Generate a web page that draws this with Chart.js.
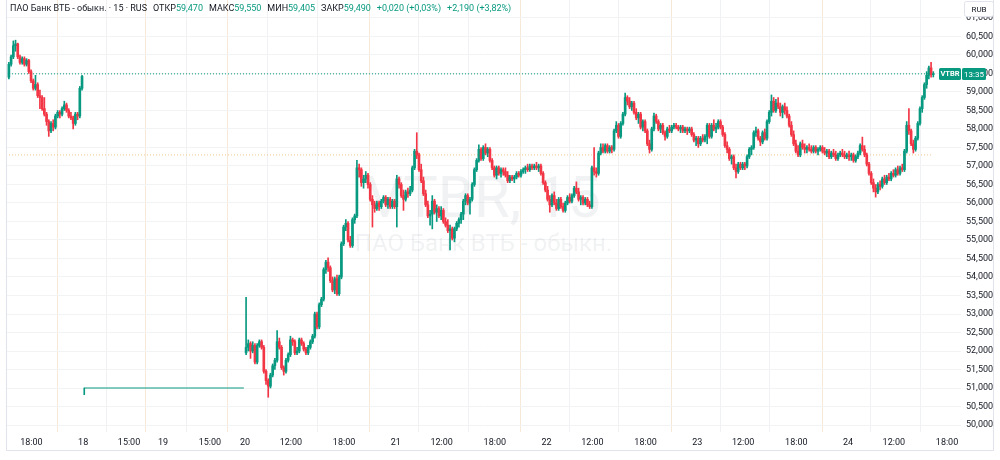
<!DOCTYPE html>
<html><head><meta charset="utf-8">
<script src="https://cdn.jsdelivr.net/npm/chart.js@4.4.1/dist/chart.umd.min.js"></script>
<style>html,body{margin:0;padding:0;background:#fff;}#wrap{width:1000px;height:460px;position:relative}</style>
</head><body><div id="wrap"><canvas id="c" width="1000" height="460"></canvas></div>
<script>
// ---- DATA: 15-min candles [open, high, low, close] (RUB) ----
const day17 = [
[59.40,59.80,59.35,59.75],[59.75,60.00,59.70,59.95],[59.95,60.38,59.90,60.25],[60.25,60.40,60.10,60.30],
[60.30,60.32,59.90,59.95],[59.95,60.00,59.75,59.80],[59.80,59.95,59.75,59.90],[59.90,59.95,59.70,59.75],
[59.75,59.90,59.70,59.85],[59.85,59.88,59.50,59.55],[59.55,59.60,59.25,59.30],[59.30,59.35,59.05,59.10],
[59.10,59.45,59.05,59.20],[59.20,59.25,58.85,58.90],[58.90,59.05,58.55,58.85],[58.85,58.90,58.50,58.55],
[58.55,58.85,58.35,58.40],[58.40,58.45,58.10,58.20],[58.20,58.25,57.80,57.95],[57.95,58.20,57.90,58.15],
[58.15,58.25,57.95,58.05],[58.05,58.40,58.00,58.35],[58.35,58.50,58.30,58.45],[58.45,58.50,58.30,58.40],
[58.40,58.60,58.35,58.55],[58.55,58.75,58.50,58.65],[58.65,58.70,58.45,58.50],[58.50,58.55,58.30,58.35],
[58.35,58.45,58.25,58.30],[58.30,58.35,58.00,58.15],[58.15,58.45,58.10,58.40],[58.40,58.45,58.25,58.35],
[58.35,59.15,58.30,59.10],[59.10,59.45,59.05,59.42]];
const day20 = [
[51.95,53.45,51.90,52.10],[52.10,52.30,52.00,52.20],[52.20,52.25,51.80,52.00],[52.00,52.25,51.95,52.15],
[52.15,52.20,51.65,51.70],[51.70,52.20,51.65,52.15],[52.15,52.30,52.10,52.25],[52.25,52.30,52.05,52.10],
[52.10,52.15,51.40,51.45],[51.45,51.50,51.10,51.20],[51.20,51.25,50.75,51.05],[51.05,51.40,51.00,51.35],
[51.35,51.65,51.30,51.60],[51.60,51.80,51.50,51.75],[51.75,52.55,51.70,52.25],[52.25,52.35,52.05,52.10],
[52.10,52.15,51.50,51.55],[51.55,51.60,51.35,51.45],[51.45,51.80,51.40,51.75],[51.75,51.95,51.70,51.90],
[51.90,52.40,51.85,52.30],[52.30,52.35,52.15,52.25],[52.25,52.30,51.90,51.95],[51.95,52.10,51.90,52.00],
[52.00,52.35,51.95,52.30],[52.30,52.35,52.15,52.20],[52.20,52.25,52.00,52.05],[52.05,52.10,51.90,51.95],
[51.95,52.15,51.90,52.10],[52.10,52.30,52.05,52.25],[52.25,52.45,52.20,52.40],[52.40,53.05,52.35,53.00],
[53.00,53.05,52.60,52.65],[52.65,53.30,52.60,53.25],[53.25,53.45,53.20,53.40],[53.40,54.25,53.35,54.20],
[54.20,54.45,54.10,54.40],[54.40,54.52,54.15,54.25],[54.25,54.30,53.85,53.90],[53.90,54.00,53.60,53.65],
[53.65,54.00,53.55,53.95],[53.95,54.05,53.50,53.55],[53.55,54.05,53.50,54.00],[54.00,54.95,53.95,54.90],
[54.90,55.40,54.85,55.35],[55.35,55.55,55.25,55.45],[55.45,55.50,54.95,55.00],[55.00,55.10,54.80,54.85],
[54.85,55.60,54.80,55.55],[55.55,55.70,55.45,55.65],[55.65,57.15,55.60,56.95],[56.95,57.05,56.70,56.90],
[56.90,56.95,56.45,56.55],[56.55,56.75,56.40,56.65],[56.65,56.85,56.55,56.75],[56.75,56.80,56.40,56.50],
[56.50,56.55,56.05,56.10],[56.10,56.20,55.35,55.95],[55.95,56.05,55.75,55.85],[55.85,56.05,55.80,56.00],
[56.00,56.05,55.80,55.90],[55.90,56.10,55.85,56.05],[56.05,56.20,56.00,56.15],[56.15,56.20,55.90,55.95],
[55.95,56.15,55.85,56.10],[56.10,56.15,55.85,55.90],[55.90,56.10,55.85,56.05],[56.05,56.10,55.85,55.90]];
const day21 = [
[55.90,56.75,55.35,56.65],[56.65,56.70,56.40,56.50],[56.50,56.55,56.15,56.20],[56.20,56.35,55.80,56.10],
[56.10,56.35,56.05,56.30],[56.30,56.40,56.15,56.25],[56.25,56.45,56.20,56.35],[56.35,57.00,56.30,56.95],
[56.95,57.45,56.90,57.40],[57.40,57.90,57.20,57.30],[57.30,57.35,56.85,56.90],[56.90,57.05,56.55,56.60],
[56.60,56.70,56.20,56.25],[56.25,56.35,55.90,55.95],[55.95,56.05,55.60,55.65],[55.65,55.80,55.40,55.70],
[55.70,56.20,55.30,56.05],[56.05,56.10,55.70,55.75],[55.75,55.95,55.50,55.85],[55.85,55.90,55.60,55.65],
[55.65,55.90,55.55,55.80],[55.80,55.85,55.45,55.50],[55.50,55.60,55.35,55.40],[55.40,55.55,55.20,55.25],
[55.25,55.40,54.73,55.30],[55.30,55.35,55.00,55.05],[55.05,55.35,54.95,55.30],[55.30,55.50,55.25,55.45],
[55.45,55.60,55.35,55.55],[55.55,55.75,55.45,55.70],[55.70,56.10,55.55,56.05],[56.05,56.25,55.95,56.20],
[56.20,56.25,55.95,56.00],[56.00,56.15,55.70,56.10],[56.10,56.55,56.05,56.50],[56.50,56.95,56.45,56.90],
[56.90,57.20,56.85,57.15],[57.15,57.57,57.10,57.45],[57.45,57.50,57.15,57.20],[57.20,57.55,57.15,57.50],
[57.50,57.60,57.30,57.35],[57.35,57.50,57.25,57.45],[57.45,57.50,57.10,57.15],[57.15,57.20,56.90,56.95],
[56.95,57.00,56.70,56.75],[56.75,57.00,56.65,56.95],[56.95,57.00,56.75,56.80],[56.80,56.95,56.70,56.90],
[56.90,56.95,56.75,56.85],[56.85,56.95,56.70,56.75],[56.75,56.85,56.55,56.60],[56.60,56.75,56.55,56.70],
[56.70,56.75,56.60,56.65],[56.65,56.75,56.55,56.70],[56.70,56.85,56.65,56.80],[56.80,56.85,56.70,56.75],
[56.75,56.90,56.70,56.85],[56.85,56.95,56.80,56.90],[56.90,57.00,56.80,56.95],[56.95,57.05,56.85,56.90],
[56.90,57.05,56.85,57.00],[57.00,57.05,56.90,56.95],[56.95,57.05,56.90,57.00],[57.00,57.10,56.90,56.95],
[56.95,57.05,56.85,57.00],[57.00,57.05,56.75,56.80],[56.80,56.85,56.50,56.55],[56.55,56.60,56.30,56.35]];
const day22 = [
[56.35,56.45,56.05,56.10],[56.10,56.20,55.75,55.95],[55.95,56.25,55.90,56.20],[56.20,56.30,55.95,56.00],
[56.00,56.10,55.80,55.85],[55.85,56.15,55.80,56.10],[56.10,56.15,55.85,55.90],[55.90,56.00,55.75,55.80],
[55.80,56.05,55.75,56.00],[56.00,56.20,55.95,56.15],[56.15,56.25,56.00,56.05],[56.05,56.25,56.00,56.20],
[56.20,56.45,56.15,56.40],[56.40,56.57,56.25,56.30],[56.30,56.40,56.05,56.10],[56.10,56.20,55.95,56.15],
[56.15,56.20,55.95,56.00],[56.00,56.15,55.95,56.10],[56.10,56.15,55.90,55.95],[55.95,56.05,55.85,55.90],
[55.90,57.00,55.85,56.95],[56.95,57.50,56.75,56.85],[56.85,56.95,56.70,56.80],[56.80,57.40,56.75,57.35],
[57.35,57.60,57.30,57.50],[57.50,57.60,57.35,57.40],[57.40,57.60,57.35,57.55],[57.55,57.60,57.35,57.40],
[57.40,57.55,57.35,57.50],[57.50,57.55,57.35,57.45],[57.45,58.00,57.40,57.95],[57.95,58.20,57.90,58.10],
[58.10,58.15,57.75,57.80],[57.80,58.20,57.75,58.15],[58.15,58.45,58.10,58.40],[58.40,58.97,58.35,58.85],
[58.85,58.90,58.65,58.75],[58.75,58.85,58.55,58.60],[58.60,58.75,58.50,58.70],[58.70,58.75,58.40,58.45],
[58.45,58.55,58.25,58.30],[58.30,58.45,58.15,58.40],[58.40,58.45,58.00,58.05],[58.05,58.25,57.95,58.20],
[58.20,58.25,57.90,57.95],[57.95,58.00,57.55,57.60],[57.60,57.70,57.35,57.45],[57.45,58.05,57.40,58.00],
[58.00,58.43,57.95,58.35],[58.35,58.40,58.15,58.20],[58.20,58.25,57.95,58.00],[58.00,58.15,57.90,58.10],
[58.10,58.15,57.85,57.90],[57.90,57.95,57.70,57.80],[57.80,58.05,57.75,58.00],[58.00,58.10,57.90,57.95],
[57.95,58.10,57.90,58.05],[58.05,58.15,58.00,58.10],[58.10,58.15,58.00,58.05],[58.05,58.10,57.95,58.00],
[58.00,58.10,57.90,58.05],[58.05,58.10,57.90,57.95],[57.95,58.05,57.90,58.00],[58.00,58.05,57.85,57.95],
[57.95,58.05,57.90,58.00],[58.00,58.05,57.80,57.85],[57.85,57.90,57.65,57.70],[57.70,57.80,57.55,57.75]];
const day23 = [
[57.75,57.80,57.50,57.60],[57.60,57.80,57.55,57.75],[57.75,57.85,57.65,57.70],[57.70,57.85,57.65,57.80],
[57.80,58.15,57.60,58.10],[58.10,58.15,57.75,57.80],[57.80,58.15,57.75,58.10],[58.10,58.25,57.95,58.00],
[58.00,58.15,57.90,58.05],[58.05,58.25,58.00,58.20],[58.20,58.25,58.00,58.05],[58.05,58.10,57.80,57.85],
[57.85,57.90,57.50,57.55],[57.55,57.65,57.35,57.45],[57.45,57.50,57.15,57.20],[57.20,57.30,57.05,57.25],
[57.25,57.30,56.90,56.95],[56.95,57.05,56.68,56.85],[56.85,57.10,56.80,57.05],[57.05,57.10,56.90,56.95],
[56.95,57.10,56.90,57.05],[57.05,57.10,56.90,57.00],[57.00,57.30,56.95,57.25],[57.25,57.50,57.20,57.45],
[57.45,57.55,57.30,57.50],[57.50,57.95,57.45,57.90],[57.90,58.05,57.80,57.95],[57.95,58.00,57.70,57.75],
[57.75,57.80,57.55,57.65],[57.65,57.95,57.60,57.90],[57.90,58.00,57.70,57.75],[57.75,58.25,57.70,58.20],
[58.20,58.50,58.15,58.45],[58.45,58.92,58.35,58.75],[58.75,58.85,58.45,58.50],[58.50,58.80,58.45,58.70],
[58.70,58.85,58.55,58.60],[58.60,58.70,58.35,58.45],[58.45,58.65,58.30,58.60],[58.60,58.70,58.40,58.50],
[58.50,58.60,58.30,58.35],[58.35,58.40,58.05,58.10],[58.10,58.20,57.80,57.85],[57.85,57.95,57.55,57.60],
[57.60,57.70,57.35,57.40],[57.40,57.55,57.25,57.30],[57.30,57.65,57.25,57.60],[57.60,57.70,57.45,57.50],
[57.50,57.60,57.35,57.45],[57.45,57.55,57.35,57.50],[57.50,57.60,57.40,57.45],[57.45,57.55,57.35,57.40],
[57.40,57.55,57.35,57.50],[57.50,57.55,57.35,57.40],[57.40,57.50,57.30,57.45],[57.45,57.55,57.40,57.50],
[57.50,57.55,57.35,57.40],[57.40,57.50,57.30,57.35],[57.35,57.45,57.25,57.40],[57.40,57.45,57.20,57.25],
[57.25,57.40,57.20,57.35],[57.35,57.45,57.25,57.30],[57.30,57.40,57.15,57.20],[57.20,57.35,57.15,57.30],
[57.30,57.40,57.25,57.35],[57.35,57.45,57.25,57.30],[57.30,57.40,57.20,57.25],[57.25,57.35,57.20,57.30]];
const day24 = [
[57.30,57.40,57.15,57.25],[57.25,57.35,57.15,57.30],[57.30,57.35,57.10,57.15],[57.15,57.30,57.10,57.25],
[57.25,57.40,57.20,57.35],[57.35,57.60,57.30,57.55],[57.55,57.78,57.40,57.45],[57.45,57.55,57.25,57.30],
[57.30,57.35,57.00,57.05],[57.05,57.10,56.75,56.80],[56.80,56.85,56.50,56.55],[56.55,56.65,56.30,56.40],
[56.40,56.50,56.16,56.30],[56.30,56.55,56.25,56.50],[56.50,56.60,56.35,56.45],[56.45,56.70,56.40,56.65],
[56.65,56.75,56.50,56.55],[56.55,56.75,56.50,56.70],[56.70,56.80,56.60,56.65],[56.65,56.85,56.60,56.80],
[56.80,56.90,56.70,56.75],[56.75,56.95,56.70,56.90],[56.90,57.00,56.75,56.80],[56.80,57.00,56.75,56.95],
[56.95,57.05,56.85,56.90],[56.90,57.45,56.85,57.40],[57.40,58.20,57.35,58.10],[58.10,58.55,57.85,57.95],
[57.95,58.00,57.55,57.60],[57.60,57.70,57.35,57.45],[57.45,57.80,57.40,57.75],[57.75,58.20,57.70,58.15],
[58.15,58.60,58.10,58.55],[58.55,58.90,58.45,58.85],[58.85,59.25,58.80,59.20],[59.20,59.55,59.10,59.45],
[59.45,59.70,59.35,59.65],[59.65,59.80,59.40,59.47],[59.47,59.55,59.405,59.49]];
// session start (in 15-min slots from the left of the time axis)
const sessionData = [day17, day20, day21, day22, day23, day24];
const sessionStarts = [3.5, 110.5, 178.5, 246.5, 314.5, 382.5];
// weekend (18, 19) quotes
const weekendLevel = 51.00, weekendLow = 50.82, weekendFrom = 38, weekendTo = 110;
// x axis ticks
const tickSlots = [14.17, 37.5, 58.2, 73.5, 94.7, 110.5, 131.2, 155.2, 178.5, 199.2, 223.2, 246.5, 267.2, 291.2, 314.5, 335.2, 359.2, 382.5, 403.2, 427.2];
const tickLabels = ['18:00','18','15:00','19','15:00','20','12:00','18:00','21','12:00','18:00','22','12:00','18:00','23','12:00','18:00','24','12:00','18:00'];
const dayLabels = ['18','19','20','21','22','23','24'];
const yTicks = [50,50.5,51,51.5,52,52.5,53,53.5,54,54.5,55,55.5,56,56.5,57,57.5,58,58.5,59,59.5,60,60.5,61];
const lastClose = 59.49, prevClose = 57.30;
const headerTitle = 'ПАО Банк ВТБ - обыкн. · 15 · RUS';
const headerLabels = ['ОТКР','МАКС','МИН','ЗАКР'];
const headerValues = ['59,470','59,550','59,405','59,490'];
const headerChanges = ['+0,020 (+0,03%)','+2,190 (+3,82%)'];
const tagSymbol = 'VTBR', tagCountdown = '13:35', currency = 'RUB';
const watermark1 = 'VTBR, 15', watermark2 = 'ПАО Банк ВТБ - обыкн.';

// ---- build datasets ----
const UP = '#089981', DOWN = '#f23645';
const wicks = [], bodies = [];
let lastSlot = 0;
sessionData.forEach((arr, s) => {
  arr.forEach((c, i) => {
    const x = sessionStarts[s] + i + 0.5;
    const up = c[3] >= c[0];
    wicks.push({x, y: [c[2], c[1]], up});
    bodies.push({x, y: [c[0], c[3]], up});
    lastSlot = x;
  });
});
wicks.push({x: weekendFrom, y: [weekendLow, weekendLevel], up: true});
const X_MIN = 2.7, X_MAX = 433.5;
const colorOf = ctx => (ctx.raw && ctx.raw.up) ? UP : DOWN;

const overlay = {
  id: 'overlay',
  beforeDatasetsDraw(chart) {
    const {ctx, chartArea: a} = chart;
    ctx.save();
    ctx.fillStyle = 'rgba(120,123,134,0.10)';
    ctx.textAlign = 'center'; ctx.textBaseline = 'middle';
    const cx = (a.left + a.right) / 2;
    ctx.font = '58px Roboto';
    ctx.fillText(watermark1, cx, 202);
    ctx.font = '24px Roboto';
    ctx.fillText(watermark2, cx, 245);
    ctx.restore();
  },
  afterDraw(chart) {
    const {ctx} = chart;
    const ys = chart.scales.y;
    ctx.save();
    // frame
    ctx.strokeStyle = '#e0e3eb'; ctx.lineWidth = 1;
    ctx.beginPath();
    ctx.moveTo(6.5, 0); ctx.lineTo(6.5, 450.5); ctx.lineTo(993.5, 450.5); ctx.lineTo(993.5, 0);
    ctx.stroke();
    // header
    ctx.font = '9px Roboto'; ctx.textBaseline = 'alphabetic'; ctx.textAlign = 'left';
    let x = 10; const y = 11;
    const put = (t, col, gap) => { ctx.fillStyle = col; ctx.fillText(t, x, y); x += ctx.measureText(t).width + gap; };
    put(headerTitle, '#131722', 6);
    headerLabels.forEach((l, i) => { put(l, '#131722', 0); put(headerValues[i], UP, 6); });
    headerChanges.forEach(t => put(t, UP, 6));
    // RUB box
    ctx.fillStyle = '#fff'; ctx.strokeStyle = '#e0e3eb';
    ctx.beginPath(); ctx.roundRect(964.5, 1.5, 29, 15, 2); ctx.fill(); ctx.stroke();
    ctx.fillStyle = '#131722'; ctx.font = '8px Roboto'; ctx.textAlign = 'center'; ctx.textBaseline = 'middle';
    ctx.fillText(currency, 979, 9.5);
    // price tag
    const py = Math.round(ys.getPixelForValue(lastClose));
    ctx.fillStyle = UP;
    ctx.beginPath(); ctx.roundRect(939, py - 6, 22, 12, 1.5); ctx.fill();
    ctx.beginPath(); ctx.roundRect(962, py - 6, 24, 12, 1.5); ctx.fill();
    ctx.fillStyle = '#fff';
    ctx.font = 'bold 7.5px Roboto';
    ctx.fillText(tagSymbol, 950, py + 0.5);
    ctx.font = '8px Roboto';
    ctx.fillText(tagCountdown, 974, py + 0.5);
    ctx.restore();
  }
};

new Chart(document.getElementById('c'), {
  type: 'bar',
  data: { datasets: [
    { type: 'line', data: [{x: X_MIN, y: prevClose}, {x: lastSlot - 1, y: prevClose}], borderColor: '#f3c98b', borderWidth: 1, borderDash: [1, 2], pointRadius: 0, order: 6 },
    { type: 'line', data: [{x: X_MIN, y: lastClose}, {x: lastSlot + 1, y: lastClose}], borderColor: UP, borderWidth: 1, borderDash: [1, 2], pointRadius: 0, order: 5 },
    { type: 'line', data: [{x: weekendFrom, y: weekendLevel}, {x: weekendTo, y: weekendLevel}], borderColor: UP, borderWidth: 1, pointRadius: 0, order: 4 },
    { data: wicks, backgroundColor: colorOf, barThickness: 1, grouped: false, order: 3 },
    { data: bodies, backgroundColor: colorOf, barThickness: 2, minBarLength: 1, grouped: false, order: 2 }
  ]},
  options: {
    responsive: false, animation: false,
    layout: { padding: { left: 6, right: 7, top: 0, bottom: 10 } },
    plugins: { legend: { display: false }, tooltip: { enabled: false } },
    scales: {
      x: {
        type: 'linear', min: X_MIN, max: X_MAX, offset: false,
        afterBuildTicks: s => { s.ticks = tickSlots.map(v => ({value: v})); },
        afterFit: s => { s.height = 18; s.paddingLeft = 0; s.paddingRight = 0; },
        border: { display: false },
        grid: { drawTicks: false, color: ctx => dayLabels.includes(tickLabels[ctx.index]) ? '#f7e9d7' : '#f0f1f4' },
        ticks: { autoSkip: false, maxRotation: 0, padding: 5, color: '#131722', font: { family: 'Roboto', size: 9 },
                 callback: (v, i) => tickLabels[i] }
      },
      y: {
        position: 'right', min: 49.811, max: 61.486,
        afterBuildTicks: s => { s.ticks = yTicks.map(v => ({value: v})); },
        afterFit: s => { s.width = 32; s.paddingTop = 0; s.paddingBottom = 0; },
        border: { display: false },
        grid: { drawTicks: false, color: '#f2f3f5' },
        ticks: { padding: 5, color: '#131722', font: { family: 'Roboto', size: 9 },
                 callback: v => v.toFixed(3).replace('.', ',') }
      }
    }
  },
  plugins: [overlay]
});
</script></body></html>
